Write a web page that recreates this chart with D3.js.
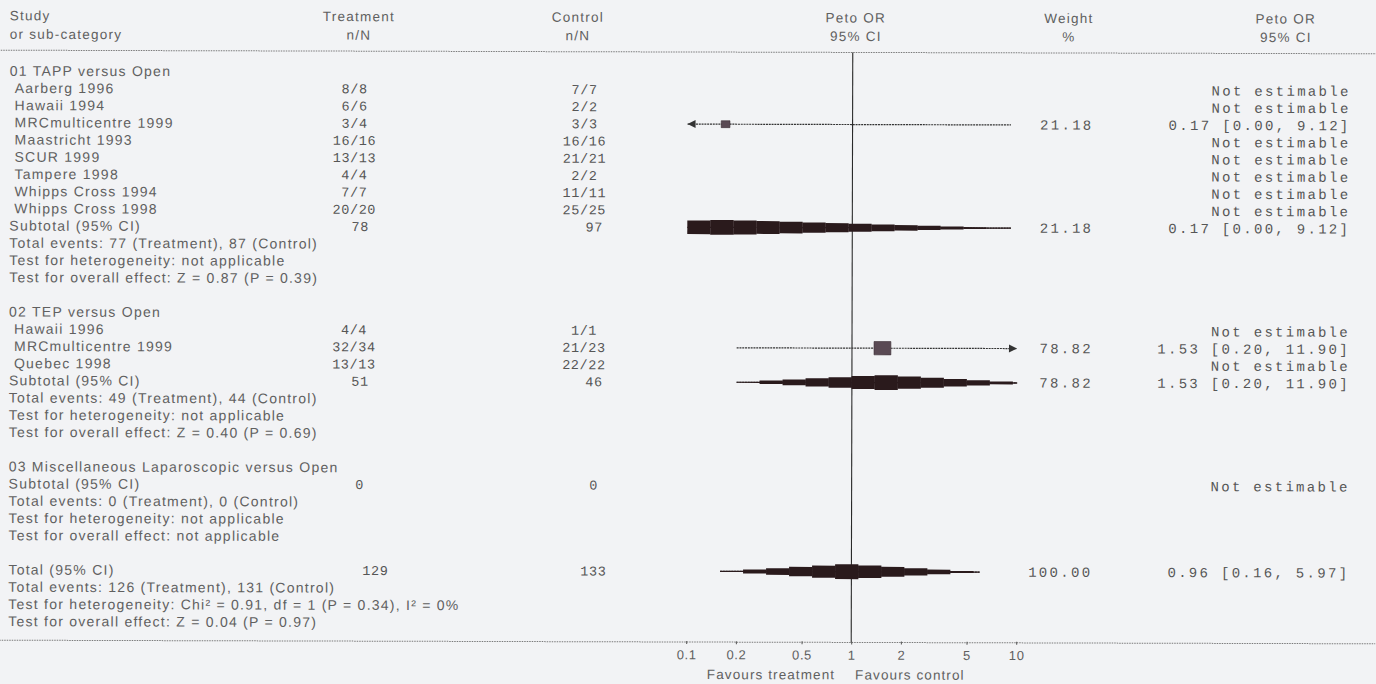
<!DOCTYPE html>
<html><head><meta charset="utf-8">
<script src="https://cdn.jsdelivr.net/npm/d3@7"></script>
<style>
html,body{margin:0;padding:0;background:#f2f3f5;}
svg{display:block}
</style></head>
<body><svg id="chart" width="1376" height="684"></svg>
<script>
// ---------------- DATA ----------------
const headerStudy = ["Study", "or sub-category"];
const headerTreatment = ["Treatment", "n/N"];
const headerControl = ["Control", "n/N"];
const headerOR = ["Peto OR", "95% CI"];
const headerWeight = ["Weight", "%"];
const headerORText = ["Peto OR", "95% CI"];

const groupTitles = ["01 TAPP versus Open", "02 TEP versus Open", "03 Miscellaneous Laparoscopic versus Open"];

const studyGroup   = [0, 0, 0, 0, 0, 0, 0, 0, 1, 1, 1];
const studyNames   = ["Aarberg 1996", "Hawaii 1994", "MRCmulticentre 1999", "Maastricht 1993", "SCUR 1999",
                      "Tampere 1998", "Whipps Cross 1994", "Whipps Cross 1998",
                      "Hawaii 1996", "MRCmulticentre 1999", "Quebec 1998"];
const studyTreatment = ["8/8", "6/6", "3/4", "16/16", "13/13", "4/4", "7/7", "20/20", "4/4", "32/34", "13/13"];
const studyControl   = ["7/7", "2/2", "3/3", "16/16", "21/21", "2/2", "11/11", "25/25", "1/1", "21/23", "22/22"];
const studyWeight    = [null, null, "21.18", null, null, null, null, null, null, "78.82", null];
const studyOR        = [null, null, 0.17, null, null, null, null, null, null, 1.53, null];
const studyLower     = [null, null, 0.003, null, null, null, null, null, null, 0.20, null]; // printed as 0.00
const studyUpper     = [null, null, 9.12, null, null, null, null, null, null, 11.90, null];
const studyCI        = ["Not estimable", "Not estimable", "0.17 [0.00, 9.12]", "Not estimable", "Not estimable",
                        "Not estimable", "Not estimable", "Not estimable",
                        "Not estimable", "1.53 [0.20, 11.90]", "Not estimable"];

const subtotalTreatment = ["78", "51", "0"];
const subtotalControl   = ["97", "46", "0"];
const subtotalWeight    = ["21.18", "78.82", null];
const subtotalOR        = [0.17, 1.53, null];
const subtotalLower     = [0.003, 0.20, null];
const subtotalUpper     = [9.12, 11.90, null];
const subtotalCI        = ["0.17 [0.00, 9.12]", "1.53 [0.20, 11.90]", "Not estimable"];
const groupNotes = [
  ["Total events: 77 (Treatment), 87 (Control)", "Test for heterogeneity: not applicable", "Test for overall effect: Z = 0.87 (P = 0.39)"],
  ["Total events: 49 (Treatment), 44 (Control)", "Test for heterogeneity: not applicable", "Test for overall effect: Z = 0.40 (P = 0.69)"],
  ["Total events: 0 (Treatment), 0 (Control)", "Test for heterogeneity: not applicable", "Test for overall effect: not applicable"]
];

const totalLabel = "Total (95% CI)";
const totalTreatment = "129";
const totalControl = "133";
const totalWeight = "100.00";
const totalOR = 0.96, totalLower = 0.16, totalUpper = 5.97;
const totalCI = "0.96 [0.16, 5.97]";
const totalNotes = ["Total events: 126 (Treatment), 131 (Control)",
  "Test for heterogeneity: Chi\u00b2 = 0.91, df = 1 (P = 0.34), I\u00b2 = 0%",
  "Test for overall effect: Z = 0.04 (P = 0.97)"];

const axisTicks = [0.1, 0.2, 0.5, 1, 2, 5, 10];
const axisTickLabels = ["0.1", "0.2", "0.5", "1", "2", "5", "10"];
const favoursLeft = "Favours treatment";
const favoursRight = "Favours control";

// ---------------- LAYOUT ----------------
const W = 1376, H = 684;
const svg = d3.select("#chart");
const root = svg.append("g").attr("transform", "rotate(0.15," + W/2 + "," + H/2 + ")");

const SANS = "'Liberation Sans', Arial, sans-serif";
const MONO = "'Liberation Mono', 'DejaVu Sans Mono', monospace";
const textCol = "#606060";
const monoCol = "#565656";
const SANS_SIZE = 14, SANS_LS = 1.25;

const xLeft = 9, xIndent = 14, xTreat = 354, xCtrl = 584, xWeight = 1093, xCI = 1350;
const headerTreatX = 358, headerCtrlX = 577, headerWeightX = 1068, headerCIX = 1285;

// build row list
const rows = [];
groupTitles.forEach((t, g) => {
  rows.push({type: "title", text: t});
  studyNames.forEach((n, i) => { if (studyGroup[i] === g) rows.push({type: "study", i}); });
  rows.push({type: "subtotal", g});
  groupNotes[g].forEach(n => rows.push({type: "note", text: n}));
  rows.push({type: "blank"});
});
rows.push({type: "total"});
totalNotes.forEach(n => rows.push({type: "note", text: n}));

const y = d3.scaleLinear().domain([0, rows.length - 1]).range([72.5, 72.5 + (rows.length - 1) * 17.2]);
const x = d3.scaleLog().domain([0.1, 10]).range([687, 1017]);
const axisY = 642;

const dotted = (yy) => root.append("line").attr("x1", 0).attr("x2", W).attr("y1", yy).attr("y2", yy)
  .attr("stroke", "#7a7a7a").attr("stroke-width", 1).attr("stroke-dasharray", "1.5,1");
dotted(52);

function hdr(lines, xx, anchor) {
  lines.forEach((t, k) => root.append("text").attr("x", xx).attr("y", 22 + k * 18.5)
    .attr("text-anchor", anchor).attr("font-family", SANS).attr("font-size", SANS_SIZE - 0.5)
    .attr("letter-spacing", SANS_LS).attr("fill", textCol).text(t));
}
hdr(headerStudy, xLeft, "start");
hdr(headerTreatment, headerTreatX, "middle");
hdr(headerControl, headerCtrlX, "middle");
hdr(headerOR, x(1) + 3, "middle");
hdr(headerWeight, headerWeightX, "middle");
hdr(headerORText, headerCIX, "middle");

// vertical line of no effect
root.append("line").attr("x1", x(1)).attr("x2", x(1)).attr("y1", 52).attr("y2", axisY)
  .attr("stroke", "#2a2a2a").attr("stroke-width", 1.1);

function sansText(xx, yy, t, anchor) {
  root.append("text").attr("x", xx).attr("y", yy + 5).attr("text-anchor", anchor || "start")
    .attr("font-family", SANS).attr("font-size", SANS_SIZE).attr("letter-spacing", SANS_LS)
    .attr("fill", textCol).text(t);
}
function monoText(xx, yy, t, anchor, ls, size) {
  root.append("text").attr("x", xx).attr("y", yy + 4.5).attr("text-anchor", anchor || "middle")
    .attr("font-family", MONO).attr("font-size", size || 13.5).attr("letter-spacing", ls == null ? 0.6 : ls)
    .attr("fill", monoCol).text(t);
}
const rightMono = (xx, yy, t) => monoText(xx, yy, t, "end", 2.3, 14);

const markG = root.append("g");

function ciLine(est, lo, hi, yy) {
  const [d0, d1] = x.domain();
  const a = x(Math.max(lo, d0)), b = x(Math.min(hi, d1));
  markG.append("line").attr("x1", a).attr("x2", b).attr("y1", yy).attr("y2", yy)
    .attr("stroke", "#333").attr("stroke-width", 1.2).attr("stroke-dasharray", "2,0.8");
  if (lo < d0) markG.append("path").attr("d", `M${a},${yy} l8,-4 l0,8 z`).attr("fill", "#333");
  if (hi > d1) markG.append("path").attr("d", `M${b},${yy} l-8,-4 l0,8 z`).attr("fill", "#333");
}
function square(est, w, yy) {
  const s = Math.sqrt(+w);
  const ww = 1.9 * s, hh = 1.5 * s;
  markG.append("rect").attr("x", x(est) - ww / 2).attr("y", yy - hh / 2).attr("width", ww).attr("height", hh)
    .attr("fill", "#5a4a54").attr("stroke", "#3a2e34").attr("stroke-width", 0.6);
}
function diamond(est, lo, hi, yy) {
  const [d0, d1] = x.domain();
  const xc = x(est), xl = x(lo), xr = x(hi);
  const a = x(Math.max(lo, d0)), b = x(Math.min(hi, d1));
  const Hd = 15, step = 23;
  const hAt = p => p < xc ? Hd * (p - xl) / (xc - xl) : Hd * (xr - p) / (xr - xc);
  markG.append("line").attr("x1", a).attr("x2", b).attr("y1", yy).attr("y2", yy)
    .attr("stroke", "#333").attr("stroke-width", 1.2).attr("stroke-dasharray", "2,0.8");
  const segs = [];
  for (let s = a; s < b - 0.5; s += step) {
    const e = Math.min(b, s + step);
    segs.push({s, e, h: Math.max(1.2, hAt((s + e) / 2))});
  }
  markG.selectAll(null).data(segs).enter().append("rect")
    .attr("x", d => d.s).attr("width", d => d.e - d.s + 0.3)
    .attr("y", d => yy - d.h / 2).attr("height", d => d.h)
    .attr("fill", "#2a1a1c");
}

rows.forEach((r, k) => {
  const yy = y(k);
  if (r.type === "title") sansText(xLeft, yy, r.text);
  else if (r.type === "note") sansText(xLeft, yy, r.text);
  else if (r.type === "study") {
    const i = r.i;
    sansText(xIndent, yy, studyNames[i]);
    monoText(xTreat, yy, studyTreatment[i]);
    monoText(xCtrl, yy, studyControl[i]);
    if (studyWeight[i] != null) {
      rightMono(xWeight, yy, studyWeight[i]);
      ciLine(studyOR[i], studyLower[i], studyUpper[i], yy);
      square(studyOR[i], studyWeight[i], yy);
    }
    rightMono(xCI, yy, studyCI[i]);
  } else if (r.type === "subtotal") {
    const g = r.g;
    sansText(xLeft, yy, "Subtotal (95% CI)");
    monoText(xTreat + 6, yy, subtotalTreatment[g]);
    monoText(xCtrl + 10, yy, subtotalControl[g]);
    if (subtotalWeight[g] != null) {
      rightMono(xWeight, yy, subtotalWeight[g]);
      diamond(subtotalOR[g], subtotalLower[g], subtotalUpper[g], yy);
    }
    rightMono(xCI, yy, subtotalCI[g]);
  } else if (r.type === "total") {
    sansText(xLeft, yy, totalLabel);
    monoText(xTreat + 22, yy, totalTreatment);
    monoText(xCtrl + 10, yy, totalControl);
    rightMono(xWeight, yy, totalWeight);
    diamond(totalOR, totalLower, totalUpper, yy);
    rightMono(xCI, yy, totalCI);
  }
});

// bottom axis
dotted(axisY);
const axis = d3.axisBottom(x).tickValues(axisTicks)
  .tickFormat((d, i) => axisTickLabels[i]).tickSize(3).tickPadding(6);
const ag = root.append("g").attr("transform", `translate(0,${axisY - 1})`).call(axis);
ag.select(".domain").remove();
ag.selectAll(".tick line").attr("stroke", "#555");
ag.selectAll(".tick text").attr("font-family", SANS).attr("font-size", 13)
  .attr("letter-spacing", 0.6).attr("fill", textCol);

root.append("text").attr("x", x(1) - 16).attr("y", 679).attr("text-anchor", "end")
  .attr("font-family", SANS).attr("font-size", 13.5).attr("letter-spacing", 1.1)
  .attr("fill", textCol).text(favoursLeft);
root.append("text").attr("x", x(1) + 4).attr("y", 679).attr("text-anchor", "start")
  .attr("font-family", SANS).attr("font-size", 13.5).attr("letter-spacing", 1.1)
  .attr("fill", textCol).text(favoursRight);
</script>
</body></html>
